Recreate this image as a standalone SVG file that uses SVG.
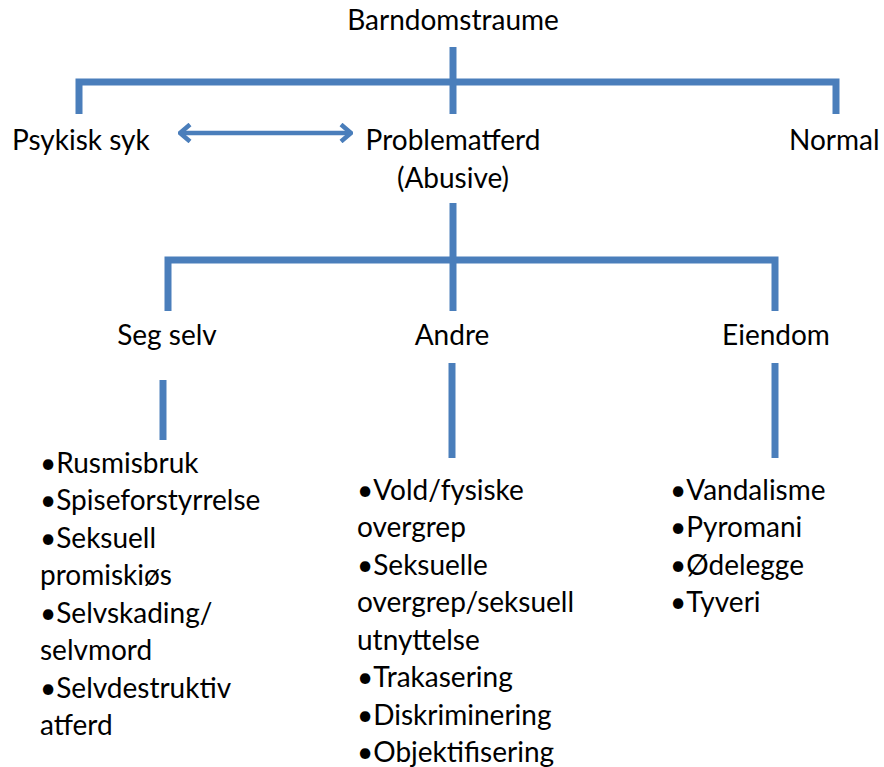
<svg xmlns="http://www.w3.org/2000/svg" width="884" height="767" viewBox="0 0 884 767">
<style>
text{font-family:Lato,"Liberation Sans",sans-serif;font-size:28px;fill:#000}
.c{text-anchor:middle}
.ln{stroke:#4a7ebb;stroke-width:7;fill:none;stroke-linejoin:miter}
.ar{stroke:#4a7ebb;stroke-width:4.5;fill:none}
</style>
<defs>
<marker id="ah" viewBox="0 0 14 20" refX="12" refY="10" markerWidth="14" markerHeight="20" markerUnits="userSpaceOnUse" orient="auto-start-reverse">
<polyline points="2,1.5 12,10 2,18.5" fill="none" stroke="#4a7ebb" stroke-width="4.5"/>
</marker>
</defs>
<rect width="884" height="767" fill="#fff"/>
<g id="connectors">
<line class="ln" x1="453" y1="47" x2="453" y2="114"/>
<polyline class="ln" points="79,114 79,82 836,82 836,114"/>
<line class="ln" x1="453" y1="203" x2="453" y2="311"/>
<polyline class="ln" points="168,311 168,260 775,260 775,311"/>
<line class="ln" x1="163" y1="380" x2="163" y2="440"/>
<line class="ln" x1="452" y1="363" x2="452" y2="458"/>
<line class="ln" x1="775" y1="363" x2="775" y2="458"/>
<line class="ar" x1="180" y1="133" x2="351" y2="133" marker-start="url(#ah)" marker-end="url(#ah)"/>
</g>
<g id="barndomstraume"><text class="c" x="453" y="30">Barndomstraume</text></g>
<g id="psykisk-syk"><text x="12" y="150">Psykisk syk</text></g>
<g id="problematferd"><text class="c" x="453" y="150">Problematferd</text><text class="c" x="453" y="188">(Abusive)</text></g>
<g id="normal"><text x="789" y="150">Normal</text></g>
<g id="seg-selv"><text class="c" x="167" y="345">Seg selv</text></g>
<g id="andre"><text class="c" x="452" y="345">Andre</text></g>
<g id="eiendom"><text class="c" x="776" y="345">Eiendom</text></g>
<g id="seg-selv-list">
<text x="40" y="473">•Rusmisbruk</text>
<text x="40" y="510">•Spiseforstyrrelse</text>
<text x="40" y="548">•Seksuell</text>
<text x="40" y="585">promiskiøs</text>
<text x="40" y="623">•Selvskading/</text>
<text x="40" y="660">selvmord</text>
<text x="40" y="698">•Selvdestruktiv</text>
<text x="40" y="735">atferd</text>
</g>
<g id="andre-list">
<text x="357" y="500">•Vold/fysiske</text>
<text x="357" y="537">overgrep</text>
<text x="357" y="575">•Seksuelle</text>
<text x="357" y="612">overgrep/seksuell</text>
<text x="357" y="650">utnyttelse</text>
<text x="357" y="687">•Trakasering</text>
<text x="357" y="725">•Diskriminering</text>
<text x="357" y="762">•Objektifisering</text>
</g>
<g id="eiendom-list">
<text x="670" y="500">•Vandalisme</text>
<text x="670" y="537">•Pyromani</text>
<text x="670" y="575">•Ødelegge</text>
<text x="670" y="612">•Tyveri</text>
</g>
</svg>
